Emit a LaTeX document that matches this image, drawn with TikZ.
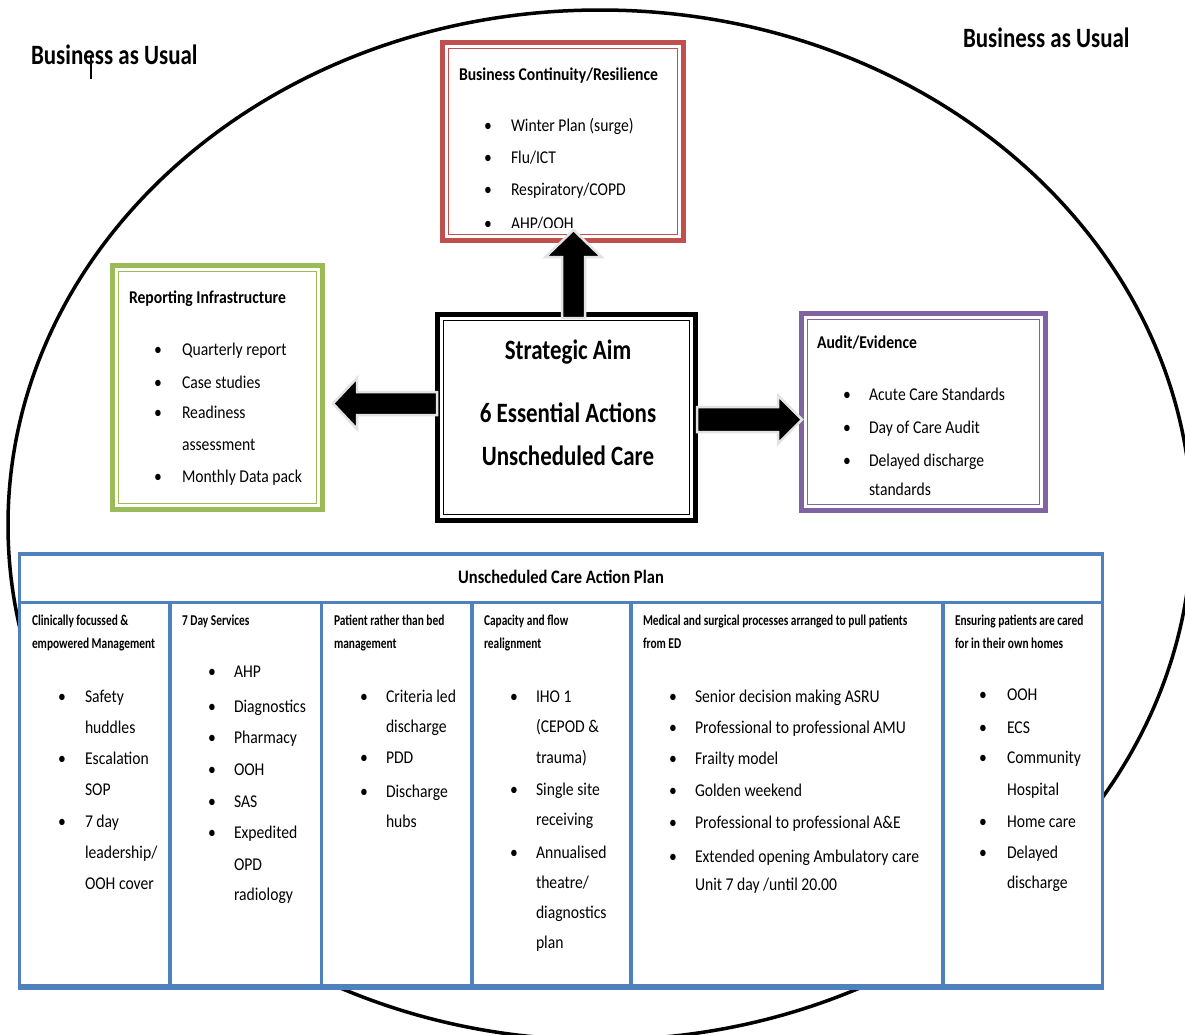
\documentclass[tikz,border=0pt]{standalone}
\usepackage{fontspec}
\setmainfont{Carlito}[FakeStretch=0.87]
\newfontfamily\bigf{Carlito}[FakeStretch=0.82]
\newfontfamily\hdrf{Carlito}[FakeStretch=0.76]
\usetikzlibrary{calc}
\definecolor{bcred}{HTML}{C0504D}
\definecolor{rigreen}{HTML}{9BBB59}
\definecolor{aepurple}{HTML}{8064A2}
\definecolor{tblue}{HTML}{4F81BD}
\definecolor{arrowgray}{HTML}{E3E3E3}
\newcommand{\colitems}[4]{%
  \foreach \t/\y/\b [count=\i] in {#4} {
    \node[body, anchor=base west] (#1t\i) at (#3,\y) {\t};
    \ifnum\b=1 \node[body, anchor=base] (#1b\i) at (#2,\y) {•};\fi
  }%
}
\begin{document}
\begin{tikzpicture}[x=1pt,y=-1pt,
  body/.style={font=\fontsize{18}{20}\selectfont, inner sep=0, outer sep=0},
  ttl/.style={font=\fontsize{18}{20}\selectfont\bfseries, inner sep=0, outer sep=0},
  big/.style={font=\bigf\fontsize{28}{30}\selectfont\bfseries, inner sep=0, outer sep=0},
  hdr/.style={font=\hdrf\fontsize{15}{17}\selectfont\bfseries, inner sep=0, outer sep=0},
  plan/.style={font=\fontsize{19}{21}\selectfont\bfseries, inner sep=0, outer sep=0},
  bbox/.style={draw, line width=5, fill=white, inner sep=0, outer sep=0},
  cell/.style={draw=tblue, line width=3.5, fill=white, inner sep=0, outer sep=0},
  barrow/.style={fill=black, draw=arrowgray, line width=2.5, line join=miter},
]
\useasboundingbox (0,0) rectangle (1185,1034);
\clip (0,0) rectangle (1185,1034);
\fill[white] (0,0) rectangle (1185,1034);

% outer ellipse
\draw[line width=3.5] (600,525) ellipse [x radius=592, y radius=515];

% Business as usual labels
\node[big, anchor=base west] (bau1) at (31,64) {Business as Usual};
\node[big, anchor=base west] (bau2) at (963,47) {Business as Usual};
\draw[line width=1.5] (91,55) -- (91,79);

% Business continuity box
\node[bbox, draw=bcred, minimum width=241, minimum height=198] (bc) at (563,141.5) {};
\draw[bcred, line width=1.5] ($(bc.north west)+(6,6)$) rectangle ($(bc.south east)+(-6,-6)$);
\node[ttl, anchor=base west] (bct) at (459,80) {Business Continuity/Resilience};
\colitems{bc}{488}{511}{{Winter Plan (surge)}/131/1, {Flu/ICT}/163/1, {Respiratory/COPD}/195/1}
\begin{scope}
  \clip (448,48) rectangle (678,227);
  \node[body, anchor=base west] (bct4) at (511,229) {AHP/OOH};
  \node[body, anchor=base] (bcb4) at (488,229) {•};
\end{scope}

% Reporting infrastructure box
\node[bbox, draw=rigreen, minimum width=210, minimum height=244] (ri) at (217.5,387.5) {};
\draw[rigreen, line width=1.5] ($(ri.north west)+(6,6)$) rectangle ($(ri.south east)+(-6,-6)$);
\node[ttl, anchor=base west] (rit) at (129,303) {Reporting Infrastructure};
\colitems{ri}{158}{182}{Quarterly report/355/1, Case studies/388/1, Readiness/418/1, assessment/450/0, Monthly Data pack/482/1}

% Audit box
\node[bbox, draw=aepurple, minimum width=244, minimum height=197] (ae) at (923.5,412) {};
\draw[aepurple, line width=1.5] ($(ae.north west)+(6,6)$) rectangle ($(ae.south east)+(-6,-6)$);
\node[ttl, anchor=base west] (aet) at (817,348) {Audit/Evidence};
\colitems{ae}{847}{869}{Acute Care Standards/400/1, Day of Care Audit/433/1, Delayed discharge/466/1, standards/495/0}

% Strategic aim box
\node[bbox, draw=black, minimum width=258, minimum height=206] (sa) at (566.5,417.5) {};
\draw[black, line width=1.5] ($(sa.north west)+(6,6)$) rectangle ($(sa.south east)+(-6,-6)$);
\node[big, anchor=base] (sa1) at (568,359) {Strategic Aim};
\node[big, anchor=base] (sa2) at (568,422) {6 Essential Actions};
\node[big, anchor=base] (sa3) at (568,465) {Unscheduled Care};

% block arrows
\draw[barrow] ($(sa.north)+(-4.5,3.5)$) -- ++(0,-61) -- ++(-16.5,0) -- ++(28,-27) -- ++(28,27) -- ++(-16.5,0) -- ++(0,61) -- cycle;
\draw[barrow] ($(sa.west)+(-0.5,-2.5)$) -- ++(0,-23) -- ++(-80,0) -- ++(0,-14) -- ++(-24,25.5) -- ++(24,25.5) -- ++(0,-14) -- ++(80,0) -- cycle;
\draw[barrow] ($(sa.east)+(1.5,-10.5)$) -- ++(81,0) -- ++(0,-11.5) -- ++(24,24) -- ++(-24,24) -- ++(0,-11.5) -- ++(-81,0) -- cycle;

% table
\node[cell, minimum width=1083, minimum height=48.5] (ph) at (561,578.25) {};
\node[cell, minimum width=150.5, minimum height=383.5] (k1) at (94.75,794.25) {};
\node[cell, minimum width=151.5, minimum height=383.5] (k2) at (245.75,794.25) {};
\node[cell, minimum width=150.5, minimum height=383.5] (k3) at (396.75,794.25) {};
\node[cell, minimum width=159, minimum height=383.5] (k4) at (551.5,794.25) {};
\node[cell, minimum width=312, minimum height=383.5] (k5) at (787,794.25) {};
\node[cell, minimum width=159.5, minimum height=383.5] (k6) at (1022.75,794.25) {};
\draw[tblue, line width=5] ($(k1.south west)+(-1.75,1.5)$) -- ($(k6.south east)+(1.75,1.5)$);

\node[plan, anchor=base] (pht) at (561,583) {Unscheduled Care Action Plan};

% column headers
\node[hdr, anchor=base west] (h1a) at (32,625) {Clinically focussed \&};
\node[hdr, anchor=base west] (h1b) at (32,648) {empowered Management};
\node[hdr, anchor=base west] (h2a) at (182,625) {7 Day Services};
\node[hdr, anchor=base west] (h3a) at (334,625) {Patient rather than bed};
\node[hdr, anchor=base west] (h3b) at (334,648) {management};
\node[hdr, anchor=base west] (h4a) at (484,625) {Capacity and flow};
\node[hdr, anchor=base west] (h4b) at (484,648) {realignment};
\node[hdr, anchor=base west] (h5a) at (643,625) {Medical and surgical processes arranged to pull patients};
\node[hdr, anchor=base west] (h5b) at (643,648) {from ED};
\node[hdr, anchor=base west] (h6a) at (955,625) {Ensuring patients are cared};
\node[hdr, anchor=base west] (h6b) at (955,648) {for in their own homes};

% column items
\colitems{ca}{62}{85}{Safety/702/1, huddles/733/0, Escalation/764/1, SOP/795/0, 7 day/827/1, {leadership/}/858/0, OOH cover/889/0}
\colitems{cb}{212}{234}{AHP/677/1, Diagnostics/712/1, Pharmacy/743/1, OOH/775/1, SAS/807/1, Expedited/838/1, OPD/870/0, radiology/900/0}
\colitems{cc}{364}{386}{Criteria led/702/1, discharge/732/0, PDD/763/1, Discharge/797/1, hubs/827/0}
\colitems{cd}{514}{536}{IHO 1/702/1, {(CEPOD \&}/732/0, {trauma)}/763/0, Single site/795/1, receiving/825/0, Annualised/858/1, {theatre/}/888/0, diagnostics/918/0, plan/948/0}
\colitems{ce}{673}{695}{Senior decision making ASRU/702/1, Professional to professional AMU/733/1, Frailty model/764/1, Golden weekend/796/1, Professional to professional A\&E/828/1, Extended opening Ambulatory care/862/1, {Unit 7 day /until 20.00}/890/0}
\colitems{cf}{983}{1007}{OOH/700/1, ECS/733/1, Community/763/1, Hospital/795/0, Home care/827/1, Delayed/858/1, discharge/888/0}
\end{tikzpicture}
\end{document}
